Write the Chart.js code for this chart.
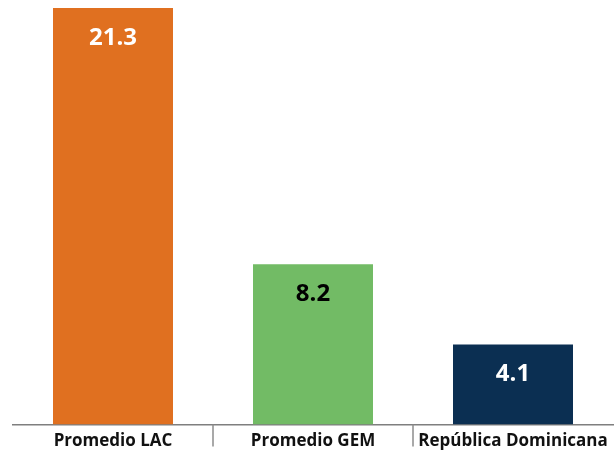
<!DOCTYPE html>
<html>
<head>
<meta charset="utf-8">
<script src="https://cdn.jsdelivr.net/npm/chart.js@4"></script>
<style>
  html, body { margin: 0; padding: 0; background: #fff; }
  #wrap { width: 614px; height: 453px; }
</style>
</head>
<body>
<div id="wrap"><canvas id="chart"></canvas></div>
<script>
const categories = ['Promedio LAC', 'Promedio GEM', 'República Dominicana'];
const values = [21.3, 8.2, 4.1];
const barColors = ['#E07020', '#72BB65', '#0B2F52'];
const labelColors = ['#ffffff', '#000000', '#ffffff'];

// values drawn inside each bar, near the top
const valueLabels = {
    id: 'valueLabels',
    afterDatasetsDraw(chart) {
        const ctx = chart.ctx;
        const meta = chart.getDatasetMeta(0);
        ctx.save();
        ctx.font = 'bold 24px "Open Sans"';
        ctx.textAlign = 'center';
        ctx.textBaseline = 'middle';
        meta.data.forEach((bar, i) => {
            ctx.fillStyle = labelColors[i];
            ctx.fillText(values[i].toFixed(1), bar.x, bar.y + 30);
        });
        ctx.restore();
    }
};

// small separators under the axis between categories
const separators = {
    id: 'separators',
    afterDraw(chart) {
        const x = chart.scales.x;
        const ctx = chart.ctx;
        ctx.save();
        ctx.strokeStyle = '#8c8c8c';
        ctx.lineWidth = 1.5;
        for (let i = 0; i < categories.length - 1; i++) {
            const px = (x.getPixelForValue(i) + x.getPixelForValue(i + 1)) / 2;
            ctx.beginPath();
            ctx.moveTo(px, x.top);
            ctx.lineTo(px, x.top + 22);
            ctx.stroke();
        }
        ctx.restore();
    }
};

new Chart(document.getElementById('chart'), {
    type: 'bar',
    data: {
        labels: categories,
        datasets: [{
            data: values,
            backgroundColor: barColors,
            categoryPercentage: 0.6,
            barPercentage: 1.0
        }]
    },
    options: {
        responsive: true,
        maintainAspectRatio: false,
        animation: false,
        layout: { padding: { left: 13, right: 1, top: 8, bottom: -4 } },
        plugins: {
            legend: { display: false },
            tooltip: { enabled: false }
        },
        scales: {
            x: {
                grid: { display: false, drawTicks: false },
                border: { display: true, color: '#7f7f7f', width: 1.5 },
                ticks: {
                    color: '#111111',
                    padding: 6,
                    maxRotation: 0,
                    autoSkip: false,
                    font: { family: 'Open Sans', size: 17, weight: 'bold' }
                }
            },
            y: {
                display: false,
                min: 0,
                max: 21.3
            }
        }
    },
    plugins: [valueLabels, separators]
});
</script>
</body>
</html>
